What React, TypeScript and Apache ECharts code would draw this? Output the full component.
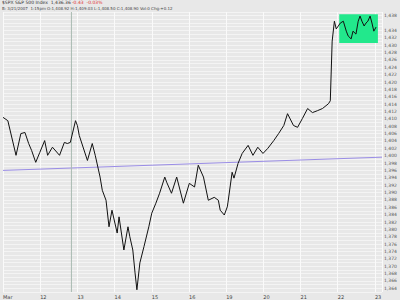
import React, { useEffect, useRef } from "react";
import * as echarts from "echarts";

// x in trading-day units (0 = Mar 9 ... 9 = Mar 22)
const dayLabels = ["Mar", "12", "13", "14", "15", "16", "19", "20", "21", "22", "23"];
const priceX = [
  0, 0.13, 0.35, 0.48, 0.59, 0.69, 0.77, 0.88, 0.99, 1.12, 1.2, 1.33, 1.52, 1.65, 1.73, 1.81, 1.95, 2.0,
  2.05, 2.27, 2.4, 2.48, 2.61, 2.67, 2.77, 2.85, 2.93, 3.07, 3.12, 3.25, 3.36, 3.41, 3.49, 3.55, 3.6, 3.68,
  3.79, 3.92, 4.0, 4.11, 4.21, 4.35, 4.4, 4.53, 4.67, 4.85, 5.01, 5.15, 5.25, 5.39, 5.52, 5.68, 5.79, 5.84,
  5.95, 6.03, 6.05, 6.16, 6.21, 6.32, 6.43, 6.59, 6.72, 6.85, 6.99, 7.12, 7.28, 7.41, 7.55, 7.65, 7.81, 7.92,
  8.05, 8.19, 8.32, 8.45, 8.59, 8.75, 8.8, 8.85, 8.91, 8.96, 9.07, 9.15, 9.23, 9.28, 9.36, 9.41, 9.49, 9.55,
  9.6, 9.65, 9.71, 9.76, 9.81, 9.87, 9.92, 9.97, 10.03,
];
const priceY = [
  1410.4, 1409.5, 1400.1, 1406.0, 1406.3, 1403.3, 1401.4, 1398.2, 1400.9, 1404.1, 1400.1, 1402.3, 1400.1,
  1403.6, 1403.3, 1403.6, 1409.5, 1408.2, 1405.5, 1398.7, 1403.3, 1400.1, 1394.2, 1390.6, 1387.9, 1380.7,
  1385.2, 1379.0, 1383.4, 1374.4, 1380.7, 1378.0, 1374.4, 1368.2, 1363.6, 1370.9, 1375.3, 1380.7, 1384.4,
  1387.1, 1389.8, 1394.2, 1392.8, 1389.8, 1394.2, 1387.1, 1392.5, 1391.5, 1397.4, 1394.2, 1387.9, 1388.7,
  1387.9, 1385.2, 1383.9, 1386.1, 1387.4, 1395.5, 1393.9, 1397.9, 1400.6, 1402.8, 1400.1, 1402.3, 1400.6,
  1402.0, 1404.1, 1406.0, 1408.2, 1411.4, 1408.2, 1407.7, 1410.1, 1412.8, 1411.7, 1412.2, 1412.8, 1414.1,
  1414.9, 1431.1, 1436.5, 1434.4, 1436.0, 1436.5, 1433.8, 1432.5, 1431.7, 1433.8, 1433.0, 1436.5, 1437.9,
  1436.5, 1435.2, 1436.0, 1436.5, 1437.9, 1436.0, 1433.8, 1434.9, 1436.36,
];
// moving average (nearly flat)
const maX = [0, 10.19];
const maY = [1396.0, 1399.6];
// highlighted box (day range, price range)
const boxX = [9.04, 10.08];
const boxY = [1430.6, 1438.4];
const lastPrice = 1436.36;
const crossX = 1.84;

export default function App() {
  const ref = useRef<HTMLDivElement>(null);
  useEffect(() => {
    const chart = echarts.init(ref.current!, undefined, { renderer: "svg" });
    const font = "DejaVu Sans";
    chart.setOption({
      animation: false,
      backgroundColor: "#e8e8e8",
      textStyle: { fontFamily: font },
      grid: { left: 0, right: 18, top: 12, bottom: 8 },
      graphic: [
        {
          type: "text",
          left: 2,
          top: 0,
          style: {
            fill: "#333",
            fontSize: 4.5,
            lineHeight: 5,
            fontFamily: font,
            text: "$SPX S&P 500 Index  1,436.36",
          },
        },
        {
          type: "text",
          left: 72,
          top: 0,
          style: {
            fill: "#e03030",
            fontSize: 4.5,
            lineHeight: 5,
            fontFamily: font,
            text: "-0.43  -0.03%",
          },
        },
        {
          type: "text",
          left: 2,
          top: 6,
          style: {
            fill: "#444",
            fontSize: 4,
            lineHeight: 4.5,
            fontFamily: font,
            text: "B: 3/21/2007  1:15pm O:1,408.92 H:1,409.03 L:1,408.50 C:1,408.90 Vol:0 Chg:+0.12",
          },
        },
      ],
      xAxis: {
        type: "value",
        min: 0,
        max: 10.19,
        interval: 1,
        axisLine: { show: false },
        axisTick: { show: false },
        splitLine: { show: true, lineStyle: { color: "#fafafa", width: 1 } },
        axisLabel: {
          fontSize: 5,
          color: "#444",
          margin: 2,
          showMaxLabel: false,
          align: "left",
          formatter: (v: number) => dayLabels[Math.round(v)] ?? "",
        },
      },
      yAxis: {
        type: "value",
        position: "right",
        min: 1363,
        max: 1439,
        interval: 1,
        axisLine: { show: false },
        axisTick: { show: false },
        splitLine: { show: true, lineStyle: { color: "#f4f4f4", width: 1 } },
        axisLabel: {
          fontSize: 4.5,
          color: "#555",
          margin: 2,
          formatter: (v: number) =>
            v % 2 === 0 && Math.abs(v - lastPrice) > 1.5 ? "1," + String(v).slice(1) : "",
        },
      },
      series: [
        {
          type: "line",
          data: maX.map((x, i) => [x, maY[i]]),
          showSymbol: false,
          lineStyle: { color: "#9a8de6", width: 1 },
          silent: true,
        },
        {
          type: "line",
          data: [[crossX, 1363], [crossX, 1439]],
          showSymbol: false,
          lineStyle: { color: "#a9bab2", width: 1 },
          silent: true,
        },
        {
          type: "line",
          data: priceX.map((x, i) => [x, priceY[i]]),
          showSymbol: false,
          lineStyle: { color: "#111", width: 1 },
          z: 5,
          markArea: {
            silent: true,
            itemStyle: { color: "#22e88c", opacity: 1 },
            data: [[{ coord: [boxX[0], boxY[1]] }, { coord: [boxX[1], boxY[0]] }]],
          },
          markLine: {
            silent: true,
            symbol: "none",
            lineStyle: { opacity: 0 },
            label: {
              position: "end",
              distance: 1,
              backgroundColor: "#111",
              color: "#fff",
              fontSize: 4,
              padding: [0.5, 0.5],
              formatter: "1,436.36",
            },
            data: [{ yAxis: lastPrice }],
          },
        },
      ],
    });
    return () => chart.dispose();
  }, []);
  return (
    <div
      ref={ref}
      style={{ position: "fixed", left: 0, top: 0, width: 400, height: 300 }}
    />
  );
}
